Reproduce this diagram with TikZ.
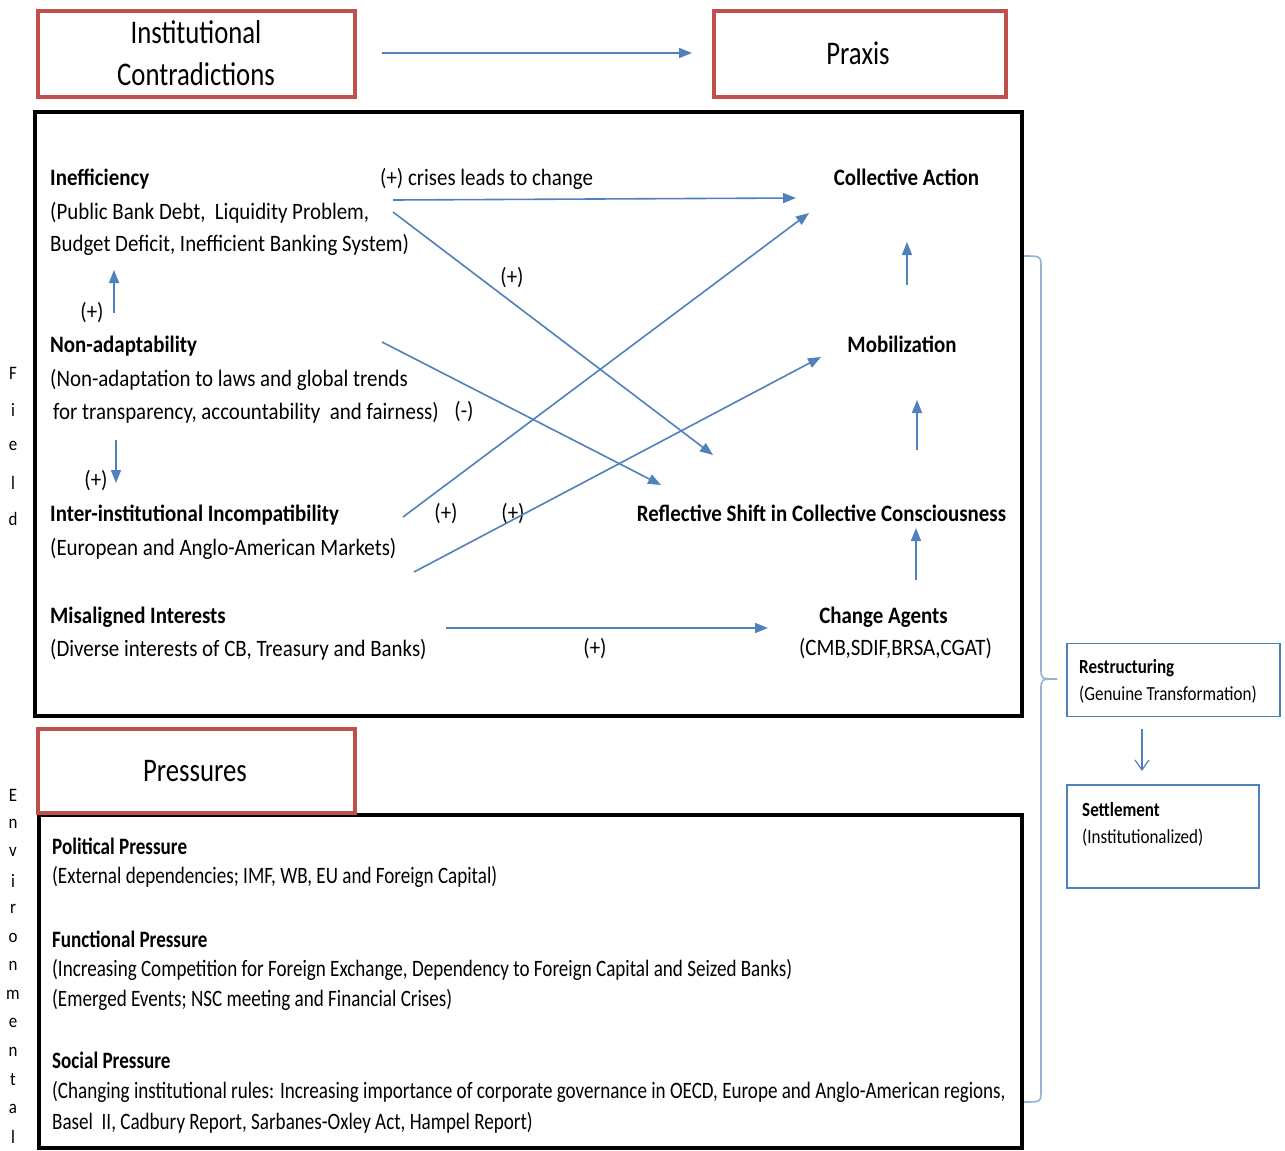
\documentclass[tikz,border=0pt]{standalone}
\usepackage{fontspec}
\setmainfont{Carlito}[FakeStretch=0.89]
\newfontfamily\lowfont{Carlito}[FakeStretch=0.812]
\newfontfamily\titlefont{Carlito}[FakeStretch=0.81]
\newfontfamily\smfont{Carlito}[FakeStretch=0.85]
\usetikzlibrary{arrows.meta}
\definecolor{cblue}{HTML}{4F81BD}
\definecolor{cred}{HTML}{C0504D}
\definecolor{lblue}{HTML}{95B3D7}
\begin{document}
\begin{tikzpicture}[x=1pt,y=-1pt,
  redbox/.style={draw=cred,line width=4pt,fill=white,inner sep=0pt},
  blackbox/.style={draw=black,line width=4pt,inner sep=0pt},
  bluebox/.style={draw=cblue,line width=1.5pt,inner sep=0pt},
  title/.style={inner sep=0pt,anchor=base,font=\titlefont\fontsize{33}{40}\selectfont},
  txt/.style={anchor=base west,inner sep=0pt,font=\fontsize{23.5}{28}\selectfont},
  btxt/.style={anchor=base west,inner sep=0pt,font=\fontsize{23.5}{28}\selectfont\bfseries},
  ctxt/.style={anchor=base,inner sep=0pt,font=\fontsize{23.5}{28}\selectfont},
  cbtxt/.style={anchor=base,inner sep=0pt,font=\fontsize{23.5}{28}\selectfont\bfseries},
  ltxt/.style={anchor=base west,inner sep=0pt,font=\lowfont\fontsize{23.5}{28}\selectfont},
  lbtxt/.style={anchor=base west,inner sep=0pt,font=\lowfont\fontsize{23.5}{28}\selectfont\bfseries},
  stxt/.style={anchor=base west,inner sep=0pt,font=\smfont\fontsize{20}{24}\selectfont},
  sbtxt/.style={anchor=base west,inner sep=0pt,font=\smfont\fontsize{20}{24}\selectfont\bfseries},
  lbl/.style={anchor=center,inner sep=0pt,font=\fontsize{23.5}{28}\selectfont},
  side/.style={anchor=center,inner sep=0pt,font=\fontsize{19}{22}\selectfont},
  arr/.style={draw=cblue,line width=1.6pt,-{Triangle[length=13pt,width=10pt]}},
  varr/.style={draw=cblue,line width=1.2pt,-{Straight Barb[length=10pt,width=14pt]}},
  brace/.style={draw=lblue,line width=1.6pt},
]
\useasboundingbox (0,0) rectangle (1285,1151);
\fill[white] (0,0) rectangle (1285,1151);

% top boxes
\node[redbox,minimum width=317pt,minimum height=86pt] (ic) at (196.5,53.5) {};
\node[redbox,minimum width=292pt,minimum height=86pt] (praxis) at (860,53.5) {};
\node[title] (ic1) at (196,43) {Institutional};
\node[title] (ic2) at (196,85) {Contradictions};
\node[title] (praxist) at (858,64) {Praxis};
\coordinate (topS) at (382,53);
\coordinate (topE) at (692,53);
\draw[arr] (topS) -- (topE);

% field box
\node[blackbox,minimum width=987pt,minimum height=604pt] (field) at (528.5,414) {};

% left column
\node[btxt] (ineff) at (50,185) {Inefficiency};
\node[txt] (ineff1) at (50,219) {(Public Bank Debt,\ \ Liquidity Problem,};
\node[txt] (ineff2) at (50,251) {Budget Deficit, Inefficient Banking System)};
\node[btxt] (nonad) at (50,352) {Non-adaptability};
\node[txt] (nonad1) at (50,386) {(Non-adaptation to laws and global trends};
\node[txt] (nonad2) at (53,419) {for transparency, accountability\ \ and fairness)};
\node[lbl] (minus) at (464,412) {(-)};
\node[btxt] (inter) at (50,521) {Inter-institutional Incompatibility};
\node[txt] (inter1) at (50,555) {(European and Anglo-American Markets)};
\node[btxt] (misal) at (50,623) {Misaligned Interests};
\node[txt] (misal1) at (50,656) {(Diverse interests of CB, Treasury and Banks)};

% right column
\node[cbtxt] (ca) at (906.5,185) {Collective Action};
\node[cbtxt] (mob) at (902,352) {Mobilization};
\node[cbtxt] (refl) at (821.5,521) {Reflective Shift in Collective Consciousness};
\node[cbtxt] (agents) at (883.5,623) {Change Agents};
\node[ctxt] (agents1) at (895.5,655) {(CMB,SDIF,BRSA,CGAT)};

% labels
\node[txt] (crises) at (380,185) {(+) crises leads to change};
\node[lbl] (p1) at (92,313) {(+)};
\node[lbl] (p2) at (96,481) {(+)};
\node[lbl] (p3) at (512,278) {(+)};
\node[lbl] (p4) at (446,514) {(+)};
\node[lbl] (p5) at (513,514) {(+)};
\node[lbl] (p6) at (595,649) {(+)};

% connector end points
\coordinate (n2iS) at (114,313); \coordinate (n2iE) at (114,270);
\coordinate (n2tS) at (116,440); \coordinate (n2tE) at (116,483);
\coordinate (i2caS) at (393,200); \coordinate (i2caE) at (796,198);
\coordinate (i2rS) at (393,212); \coordinate (i2rE) at (713,455);
\coordinate (n2rS) at (382,342); \coordinate (n2rE) at (661,485);
\coordinate (t2caS) at (403,517); \coordinate (t2caE) at (809,213);
\coordinate (t2mS) at (414,572); \coordinate (t2mE) at (821,357);
\coordinate (m2aS) at (446,628); \coordinate (m2aE) at (768,628);
\coordinate (mob2caS) at (907,285); \coordinate (mob2caE) at (907,242);
\coordinate (r2mS) at (917,450); \coordinate (r2mE) at (917,400);
\coordinate (a2rS) at (916,580); \coordinate (a2rE) at (916,528);

\draw[arr] (n2iS) -- (n2iE);
\draw[arr] (n2tS) -- (n2tE);
\draw[arr] (i2caS) -- (i2caE);
\draw[arr] (i2rS) -- (i2rE);
\draw[arr] (n2rS) -- (n2rE);
\draw[arr] (t2caS) -- (t2caE);
\draw[arr] (t2mS) -- (t2mE);
\draw[arr] (m2aS) -- (m2aE);
\draw[arr] (mob2caS) -- (mob2caE);
\draw[arr] (r2mS) -- (r2mE);
\draw[arr] (a2rS) -- (a2rE);

% pressures
\node[blackbox,minimum width=983pt,minimum height=333pt] (env) at (530.5,981.5) {};
\node[redbox,minimum width=317pt,minimum height=84pt] (press) at (196.5,770.5) {};
\node[title] (presst) at (195,781) {Pressures};

\node[lbtxt] (pol) at (52,854) {Political Pressure};
\node[ltxt] (pol1) at (52,883) {(External dependencies; IMF, WB, EU and Foreign Capital)};
\node[lbtxt] (fun) at (52,947) {Functional Pressure};
\node[ltxt] (fun1) at (52,976) {(Increasing Competition for Foreign Exchange, Dependency to Foreign Capital and Seized Banks)};
\node[ltxt] (fun2) at (52,1006) {(Emerged Events; NSC meeting and Financial Crises)};
\node[lbtxt] (soc) at (52,1068) {Social Pressure};
\node[ltxt] (soc1) at (52,1098) {(Changing institutional rules: Increasing importance of corporate governance in OECD, Europe and Anglo-American regions,};
\node[ltxt] (soc2) at (52,1129) {Basel\ \ II, Cadbury Report, Sarbanes-Oxley Act, Hampel Report)};

% side letters
\foreach \ch [count=\i from 0] in {F,i,e,l,d}
  \node[side] at (13,373+36.5*\i) {\ch};
\foreach \ch [count=\i from 0] in {E,n,v,i,r,o,n,m,e,n,t,a,l}
  \node[side] at (13,795+28.5*\i) {\ch};

% brace
\draw[brace] (1024,256) .. controls (1041,256) .. (1041,268) -- (1041,668)
  .. controls (1041,679) .. (1057,679) .. controls (1041,679) .. (1041,690)
  -- (1041,1090) .. controls (1041,1102) .. (1024,1102);

% restructuring / settlement
\node[bluebox,minimum width=213pt,minimum height=73pt] (restr) at (1173.5,680) {};
\node[sbtxt] (restrt) at (1079,673) {Restructuring};
\node[stxt] (restrt1) at (1079,700) {(Genuine Transformation)};
\node[bluebox,minimum width=192pt,minimum height=103pt] (settl) at (1163,836.5) {};
\node[sbtxt] (settlt) at (1082,816) {Settlement};
\node[stxt] (settlt1) at (1082,843) {(Institutionalized)};
\coordinate (rsS) at (1142,729);
\coordinate (rsE) at (1142,771);
\draw[varr] (rsS) -- (rsE);
\end{tikzpicture}
\end{document}
